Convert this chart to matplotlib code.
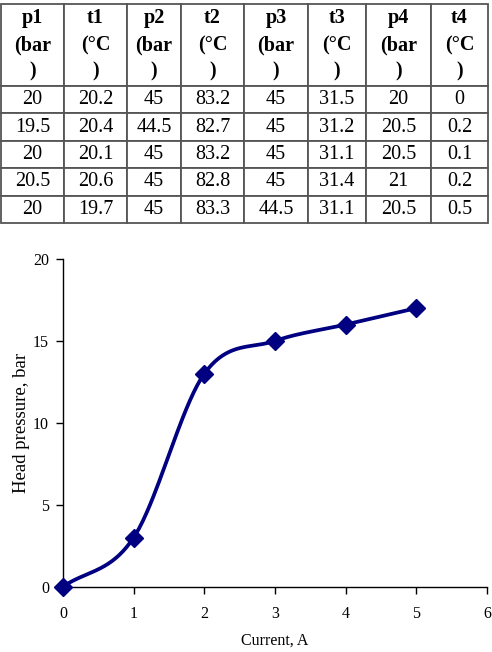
import numpy as np
import matplotlib
matplotlib.use("Agg")
import matplotlib.pyplot as plt

plt.rcParams['font.family'] = ['Liberation Serif', 'DejaVu Serif']

# ---- table data ----
col_labels = ["p1\n(bar\n)", "t1\n(°C\n)", "p2\n(bar\n)", "t2\n(°C\n)",
              "p3\n(bar\n)", "t3\n(°C\n)", "p4\n(bar\n)", "t4\n(°C\n)"]
p1 = ["20", "19.5", "20", "20.5", "20"]
t1 = ["20.2", "20.4", "20.1", "20.6", "19.7"]
p2 = ["45", "44.5", "45", "45", "45"]
t2 = ["83.2", "82.7", "83.2", "82.8", "83.3"]
p3 = ["45", "45", "45", "45", "44.5"]
t3 = ["31.5", "31.2", "31.1", "31.4", "31.1"]
p4 = ["20", "20.5", "20.5", "21", "20.5"]
t4 = ["0", "0.2", "0.1", "0.2", "0.5"]

# ---- chart data ----
current = [0, 1, 2, 3, 4, 5]
head_pressure = [0, 3, 13, 15, 16, 17]
x_ticks = [0, 1, 2, 3, 4, 5, 6]
y_ticks = [0, 5, 10, 15, 20]

W, H = 492, 652
fig = plt.figure(figsize=(W / 100, H / 100), dpi=100)

# ---- table ----
tax = fig.add_axes([1 / W, 1 - 223 / H, 487 / W, 219 / H])
tax.axis('off')
cols = [p1, t1, p2, t2, p3, t3, p4, t4]
rows = [list(r) for r in zip(*cols)]
widths = np.array([63, 63, 54, 63, 64, 58, 65, 57], dtype=float)
widths = widths / widths.sum()
tbl = tax.table(cellText=rows, colLabels=col_labels, colWidths=list(widths),
                cellLoc='center', bbox=[0, 0, 1, 1])
tbl.auto_set_font_size(False)
edge = '#555555'
for (r, c), cell in tbl.get_celld().items():
    cell.set_edgecolor(edge)
    cell.set_linewidth(1.3)
    cell.get_text().set_fontsize(14.5)
    if r == 0:
        cell.set_height(82)
        cell.get_text().set_fontweight('bold')
        cell.get_text().set_linespacing(1.45)
    else:
        cell.set_height(27.4)

# ---- chart ----
ax = fig.add_axes([63 / W, 1 - 586.7 / H, (487 - 63) / W, (586.7 - 259) / H])

# Catmull-Rom smoothing through the data points (like a spreadsheet smoothed line)
xs = np.asarray(current, dtype=float)
ys = np.asarray(head_pressure, dtype=float)
px = np.concatenate([[2 * xs[0] - xs[1]], xs, [2 * xs[-1] - xs[-2]]])
py = np.concatenate([[2 * ys[0] - ys[1]], ys, [2 * ys[-1] - ys[-2]]])
sx, sy = [], []
t = np.linspace(0, 1, 40)
for i in range(1, len(px) - 2):
    p0, p1_, p2_, p3_ = [np.array([px[j], py[j]]) for j in (i - 1, i, i + 1, i + 2)]
    c1 = p1_ + (p2_ - p0) / 6
    c2 = p2_ - (p3_ - p1_) / 6
    b = ((1 - t) ** 3)[:, None] * p1_ + (3 * (1 - t) ** 2 * t)[:, None] * c1 + \
        (3 * (1 - t) * t ** 2)[:, None] * c2 + (t ** 3)[:, None] * p2_
    sx.extend(b[:, 0]); sy.extend(b[:, 1])

navy = '#000080'
ax.plot(sx, sy, color=navy, lw=2.7, solid_capstyle='round', clip_on=False, zorder=3)
ax.plot(current, head_pressure, linestyle='none', marker='D', ms=9,
        color=navy, clip_on=False, zorder=4)

ax.set_xlim(0, 6)
ax.set_ylim(0, 20)
ax.set_xticks(x_ticks)
ax.set_yticks(y_ticks)
for s in ['top', 'right']:
    ax.spines[s].set_visible(False)
for s in ['left', 'bottom']:
    ax.spines[s].set_linewidth(1.0)
ax.tick_params(direction='out', length=5, width=1, labelsize=11.5, pad=5)
ax.tick_params(axis='x', pad=9)
ax.set_xlabel('Current, A', fontsize=11.5)
ax.xaxis.set_label_coords(0.5, -0.14)
ax.set_ylabel('Head pressure, bar', fontsize=13.5)
ax.yaxis.set_label_coords(-0.078, 0.5)

fig.savefig('out.png', dpi=100)
